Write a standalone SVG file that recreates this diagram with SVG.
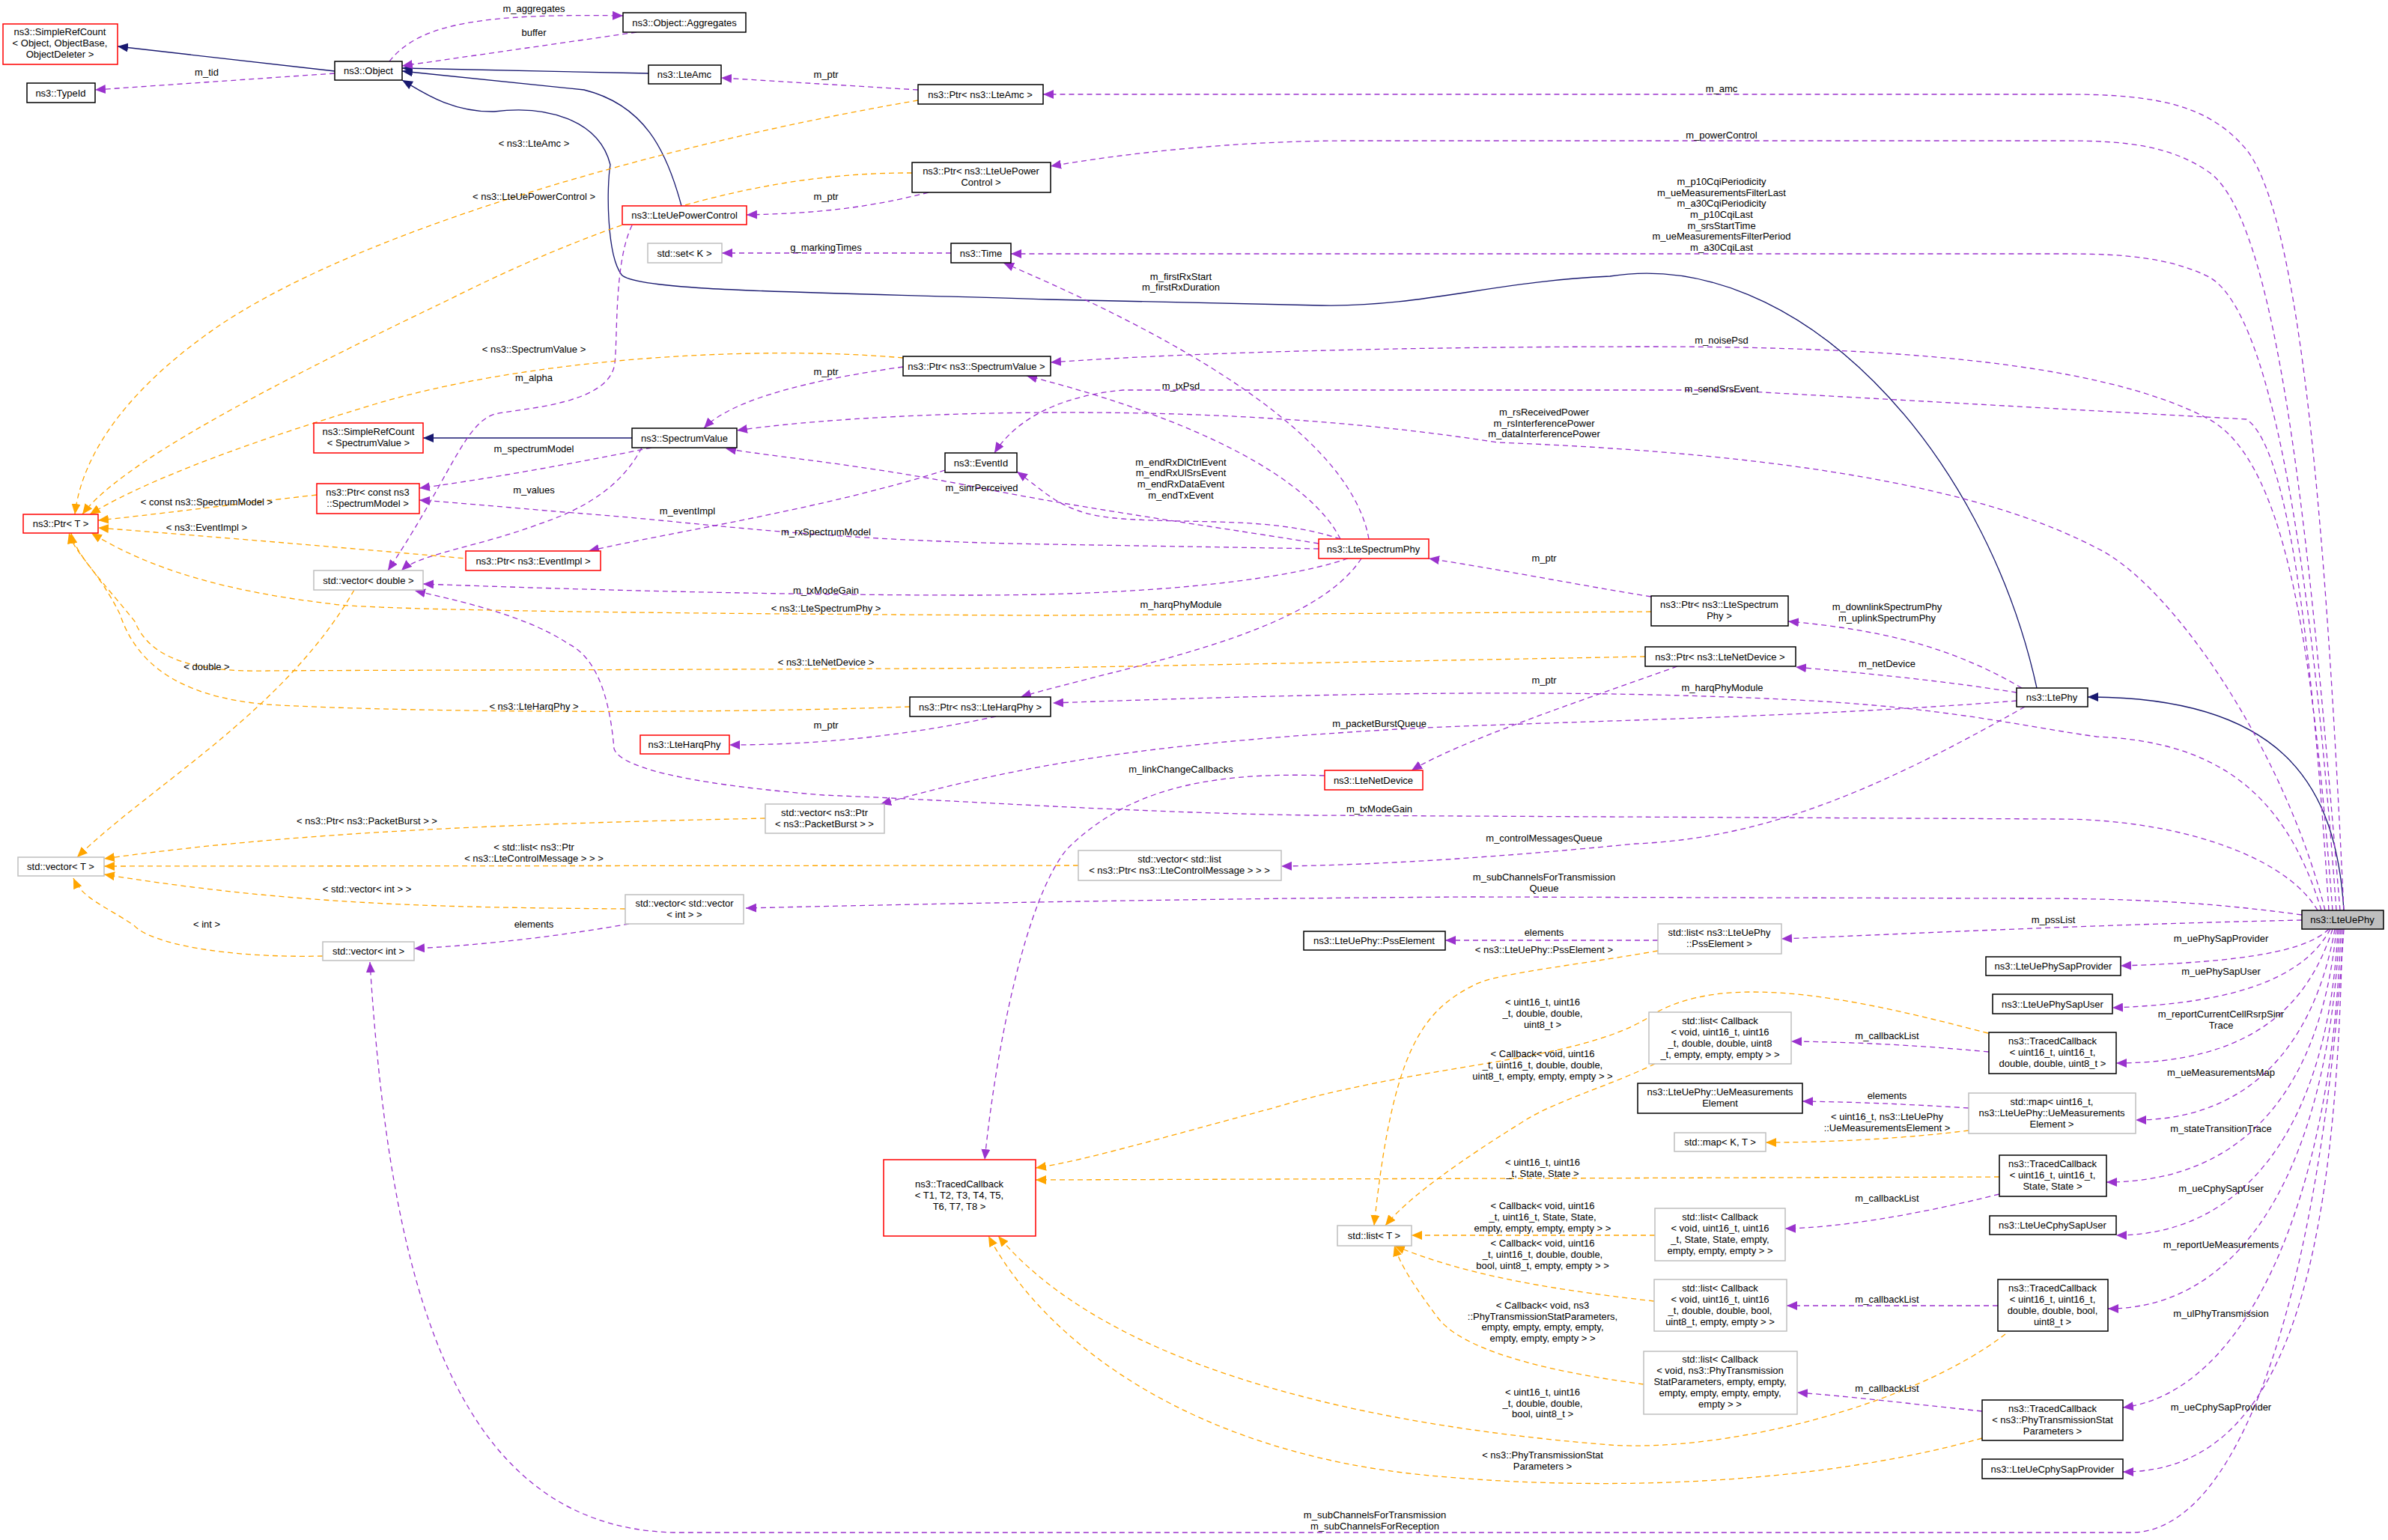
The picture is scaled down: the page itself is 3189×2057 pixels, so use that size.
<svg xmlns="http://www.w3.org/2000/svg" width="3189" height="2057" viewBox="0 0 3189 2057">
<style>
text{font-family:"Liberation Sans",Arial,sans-serif;font-size:13px;fill:#000}
.n rect{fill:#fff;stroke:#000;stroke-width:1.5}
.r rect{fill:#fff;stroke:#f00;stroke-width:1.5}
.g rect{fill:#fff;stroke:#bfbfbf;stroke-width:1.5}
.n text,.r text,.g text{text-anchor:middle}
.e path{fill:none;stroke-width:1.3}
.p{stroke:#9a32cd;stroke-dasharray:7,5;marker-end:url(#ap)}
.o{stroke:#ffa500;stroke-dasharray:7,5;marker-end:url(#ao)}
.b{stroke:#191970;marker-end:url(#ab)}
.l text{text-anchor:middle}
</style>
<defs>
<marker id="ap" markerUnits="userSpaceOnUse" markerWidth="16" markerHeight="12" refX="14" refY="6" orient="auto"><path d="M0,0 L14,6 L0,12 z" fill="#9a32cd"/></marker>
<marker id="ao" markerUnits="userSpaceOnUse" markerWidth="16" markerHeight="12" refX="14" refY="6" orient="auto"><path d="M0,0 L14,6 L0,12 z" fill="#ffa500"/></marker>
<marker id="ab" markerUnits="userSpaceOnUse" markerWidth="16" markerHeight="12" refX="14" refY="6" orient="auto"><path d="M0,0 L14,6 L0,12 z" fill="#191970"/></marker>
</defs>
<rect width="3189" height="2057" fill="#fff"/>
<g class="e" id="edges">
<path class="b" d="M447,95 L157,62"/>
<path class="b" d="M866,98 L537,91"/>
<path class="b" d="M910,275 C890,200 860,140 780,120 L537,95"/>
<path class="b" d="M2720,919 C2650,600 2400,330 2150,369 C2000,375 1900,410 1765,408 L1400,400 C1100,390 850,390 830,367 C810,340 810,250 815,220 C800,160 730,140 660,149 C600,150 560,120 537,107"/>
<path class="b" d="M844,585 L565,585"/>
<path class="b" d="M3130,1216 C3120,1050 3050,931 2788,931"/>
<path class="p" d="M520,82 C560,30 650,18 832,21"/>
<path class="p" d="M850,43 L537,88"/>
<path class="p" d="M447,98 L127,120"/>
<path class="p" d="M1226,120 L963,104"/>
<path class="p" d="M3130,1216 C3110,800 3080,300 3000,200 C2950,140 2880,126 2760,126 L1393,126"/>
<path class="p" d="M3125,1216 C3090,800 3050,300 2950,230 C2900,195 2840,188 2760,188 L1800,188 C1650,188 1500,205 1403,222"/>
<path class="p" d="M1240,257 C1150,280 1080,285 997,287"/>
<path class="p" d="M3120,1216 C3090,800 3040,420 2950,370 C2900,345 2840,339 2760,339 L1350,339"/>
<path class="p" d="M1270,338 L964,338"/>
<path class="p" d="M1828,720 C1800,560 1500,420 1340,351"/>
<path class="p" d="M3115,1216 C3090,900 3060,620 2950,560 C2800,480 2500,463 2200,463 C1900,463 1600,470 1403,484"/>
<path class="p" d="M1790,720 C1750,640 1600,560 1371,502"/>
<path class="p" d="M3110,1216 C3090,900 3060,600 3000,560 L2300,521 L1500,521 C1400,530 1350,570 1328,605"/>
<path class="p" d="M3105,1216 C3050,1000 2900,780 2800,732 C2700,680 2500,610 2000,591 C1800,560 1600,550 1400,551 C1200,552 1050,565 984,575"/>
<path class="p" d="M1206,490 C1100,505 980,530 940,572"/>
<path class="p" d="M1761,726 C1600,700 1450,680 1300,650 C1150,620 1030,610 969,599"/>
<path class="p" d="M870,598 C760,620 650,640 560,652"/>
<path class="p" d="M857,598 C830,650 780,680 720,700 C640,730 560,740 536,762"/>
<path class="p" d="M844,301 C820,350 825,450 821,485 C815,540 700,545 661,553 C620,565 600,640 518,762"/>
<path class="p" d="M1262,628 C1100,680 900,710 786,736"/>
<path class="p" d="M1761,733 L1400,727 C1100,722 950,700 804,688 C700,680 620,672 560,668"/>
<path class="p" d="M1790,720 C1700,690 1600,700 1500,693 C1420,688 1400,660 1358,630"/>
<path class="p" d="M1800,746 C1700,780 1500,795 1300,795 C1000,795 700,785 565,780"/>
<path class="p" d="M2205,797 C2100,780 2000,760 1908,746"/>
<path class="p" d="M2700,919 C2600,860 2500,840 2388,830"/>
<path class="p" d="M2693,925 C2600,910 2500,900 2398,891"/>
<path class="p" d="M2240,890 C2100,940 1950,990 1885,1029"/>
<path class="p" d="M1818,746 C1750,850 1500,890 1363,931"/>
<path class="p" d="M3100,1216 C3050,1050 2950,990 2800,984 C2700,970 2600,945 2400,935 C2100,920 1800,925 1406,939"/>
<path class="p" d="M1330,957 C1200,985 1080,995 974,995"/>
<path class="p" d="M2693,936 C2400,960 2000,965 1850,975 C1600,990 1400,1010 1176,1074"/>
<path class="p" d="M3095,1216 C3050,1140 2900,1094 2748,1094 L1750,1089 C1500,1085 1300,1070 1100,1062 C950,1050 830,1030 820,1000 C815,940 800,880 759,860 C700,820 600,800 554,789"/>
<path class="p" d="M1769,1036 C1600,1030 1500,1060 1425,1134 C1370,1200 1330,1400 1315,1549"/>
<path class="p" d="M2704,944 C2500,1060 2350,1120 2184,1127 C2000,1145 1850,1155 1711,1157"/>
<path class="p" d="M3074,1222 C2950,1205 2850,1200 2700,1200 L1967,1198 C1600,1200 1200,1208 996,1213"/>
<path class="p" d="M840,1234 C750,1250 650,1262 553,1267"/>
<path class="p" d="M3130,1241 C3100,1700 3000,2040 2850,2047 L900,2047 C600,2040 520,1700 494,1285"/>
<path class="p" d="M3074,1229 C2800,1235 2600,1245 2379,1254"/>
<path class="p" d="M2214,1256 L1930,1256"/>
<path class="p" d="M3110,1241 C3080,1270 3000,1285 2832,1290"/>
<path class="p" d="M3112,1241 C3080,1300 3000,1340 2821,1346"/>
<path class="p" d="M3115,1241 C3080,1350 3000,1420 2826,1420"/>
<path class="p" d="M2656,1405 C2550,1395 2470,1392 2392,1391"/>
<path class="p" d="M3118,1241 C3090,1400 3000,1496 2852,1496"/>
<path class="p" d="M2629,1480 C2550,1475 2480,1472 2407,1471"/>
<path class="p" d="M3120,1241 C3100,1450 3000,1579 2813,1579"/>
<path class="p" d="M2670,1595 C2550,1625 2450,1640 2384,1641"/>
<path class="p" d="M3122,1241 C3110,1500 3000,1650 2826,1650"/>
<path class="p" d="M3124,1241 C3110,1550 3000,1748 2815,1748"/>
<path class="p" d="M2668,1744 L2386,1744"/>
<path class="p" d="M3126,1241 C3115,1600 3000,1860 2835,1880"/>
<path class="p" d="M2647,1885 C2550,1875 2470,1865 2400,1860"/>
<path class="p" d="M3128,1241 C3120,1700 3050,1966 2835,1966"/>
<path class="o" d="M1226,134 C900,190 500,300 300,430 C180,510 110,600 100,687"/>
<path class="o" d="M1218,231 C1000,230 800,300 600,400 C350,520 160,620 110,687"/>
<path class="o" d="M1206,478 C1000,460 700,480 500,540 C300,600 180,650 120,687"/>
<path class="o" d="M423,661 C300,675 200,688 131,695"/>
<path class="o" d="M690,752 C500,735 300,718 131,705"/>
<path class="o" d="M2205,817 L1400,822 C900,820 500,815 446,807 C300,790 200,760 122,712"/>
<path class="o" d="M2197,877 L1400,892 C900,895 500,895 357,896 C260,898 200,880 180,830 C140,780 100,740 95,712"/>
<path class="o" d="M1215,944 C900,955 500,950 357,941 C230,930 180,880 160,820 C130,760 100,740 92,712"/>
<path class="o" d="M473,788 C380,950 200,1050 103,1145"/>
<path class="o" d="M1022,1093 C700,1100 400,1110 139,1147"/>
<path class="o" d="M1440,1156 L139,1157"/>
<path class="o" d="M835,1214 C600,1212 400,1210 139,1168"/>
<path class="o" d="M431,1277 C300,1280 200,1260 179,1236 C140,1210 110,1200 98,1173"/>
<path class="o" d="M2214,1270 C2100,1290 2000,1300 1970,1315 C1900,1350 1860,1400 1835,1637"/>
<path class="o" d="M2655,1380 C2500,1340 2300,1290 2200,1360 C2100,1420 1900,1420 1700,1480 C1550,1520 1450,1550 1383,1560"/>
<path class="o" d="M2210,1421 C2150,1450 2080,1470 2039,1495 C1950,1550 1880,1600 1850,1637"/>
<path class="o" d="M2629,1510 C2550,1520 2450,1526 2358,1526"/>
<path class="o" d="M2670,1572 L1383,1576"/>
<path class="o" d="M2210,1650 L1885,1650"/>
<path class="o" d="M2209,1738 C2050,1720 1950,1700 1862,1664"/>
<path class="o" d="M2195,1849 C2050,1830 1950,1800 1920,1760 C1890,1720 1870,1690 1862,1664"/>
<path class="o" d="M2678,1782 C2550,1880 2300,1940 2150,1930 C1900,1910 1500,1850 1333,1651"/>
<path class="o" d="M2647,1921 C2400,1990 2100,1990 1900,1970 C1600,1940 1400,1800 1320,1651"/>
</g>
<g class="l" id="labels">
<text x="713" y="16">m_aggregates</text>
<text x="713" y="48">buffer</text>
<text x="276" y="101">m_tid</text>
<text x="1103" y="104">m_ptr</text>
<text x="2299" y="123">m_amc</text>
<text x="2299" y="185">m_powerControl</text>
<text x="713" y="196">&lt; ns3::LteAmc &gt;</text>
<text x="713" y="267">&lt; ns3::LteUePowerControl &gt;</text>
<text x="1103" y="267">m_ptr</text>
<text x="2299" y="247">m_p10CqiPeriodicity</text>
<text x="2299" y="262">m_ueMeasurementsFilterLast</text>
<text x="2299" y="276">m_a30CqiPeriodicity</text>
<text x="2299" y="291">m_p10CqiLast</text>
<text x="2299" y="306">m_srsStartTime</text>
<text x="2299" y="320">m_ueMeasurementsFilterPeriod</text>
<text x="2299" y="335">m_a30CqiLast</text>
<text x="1103" y="335">g_markingTimes</text>
<text x="1577" y="374">m_firstRxStart</text>
<text x="1577" y="388">m_firstRxDuration</text>
<text x="2299" y="459">m_noisePsd</text>
<text x="713" y="471">&lt; ns3::SpectrumValue &gt;</text>
<text x="1103" y="501">m_ptr</text>
<text x="713" y="509">m_alpha</text>
<text x="1577" y="520">m_txPsd</text>
<text x="2299" y="524">m_sendSrsEvent</text>
<text x="2062" y="555">m_rsReceivedPower</text>
<text x="2062" y="570">m_rsInterferencePower</text>
<text x="2062" y="584">m_dataInterferencePower</text>
<text x="713" y="604">m_spectrumModel</text>
<text x="1577" y="622">m_endRxDlCtrlEvent</text>
<text x="1577" y="636">m_endRxUlSrsEvent</text>
<text x="1577" y="651">m_endRxDataEvent</text>
<text x="1577" y="666">m_endTxEvent</text>
<text x="1311" y="656">m_sinrPerceived</text>
<text x="713" y="659">m_values</text>
<text x="276" y="675">&lt; const ns3::SpectrumModel &gt;</text>
<text x="918" y="687">m_eventImpl</text>
<text x="276" y="709">&lt; ns3::EventImpl &gt;</text>
<text x="1103" y="715">m_rxSpectrumModel</text>
<text x="2062" y="750">m_ptr</text>
<text x="1103" y="793">m_txModeGain</text>
<text x="1577" y="812">m_harqPhyModule</text>
<text x="1103" y="817">&lt; ns3::LteSpectrumPhy &gt;</text>
<text x="2520" y="815">m_downlinkSpectrumPhy</text>
<text x="2520" y="830">m_uplinkSpectrumPhy</text>
<text x="1103" y="889">&lt; ns3::LteNetDevice &gt;</text>
<text x="2520" y="891">m_netDevice</text>
<text x="276" y="895">&lt; double &gt;</text>
<text x="2062" y="913">m_ptr</text>
<text x="2300" y="923">m_harqPhyModule</text>
<text x="713" y="948">&lt; ns3::LteHarqPhy &gt;</text>
<text x="1842" y="971">m_packetBurstQueue</text>
<text x="1103" y="973">m_ptr</text>
<text x="1577" y="1032">m_linkChangeCallbacks</text>
<text x="1842" y="1085">m_txModeGain</text>
<text x="490" y="1101">&lt; ns3::Ptr&lt; ns3::PacketBurst &gt; &gt;</text>
<text x="2062" y="1124">m_controlMessagesQueue</text>
<text x="713" y="1136">&lt; std::list&lt; ns3::Ptr</text>
<text x="713" y="1151">&lt; ns3::LteControlMessage &gt; &gt; &gt;</text>
<text x="2062" y="1176">m_subChannelsForTransmission</text>
<text x="2062" y="1191">Queue</text>
<text x="490" y="1192">&lt; std::vector&lt; int &gt; &gt;</text>
<text x="2742" y="1233">m_pssList</text>
<text x="276" y="1239">&lt; int &gt;</text>
<text x="713" y="1239">elements</text>
<text x="2062" y="1250">elements</text>
<text x="2966" y="1258">m_uePhySapProvider</text>
<text x="2062" y="1273">&lt; ns3::LteUePhy::PssElement &gt;</text>
<text x="2966" y="1302">m_uePhySapUser</text>
<text x="2060" y="1343">&lt; uint16_t, uint16</text>
<text x="2060" y="1358">_t, double, double,</text>
<text x="2060" y="1373">uint8_t &gt;</text>
<text x="2966" y="1359">m_reportCurrentCellRsrpSinr</text>
<text x="2966" y="1374">Trace</text>
<text x="2520" y="1388">m_callbackList</text>
<text x="2060" y="1412">&lt; Callback&lt; void, uint16</text>
<text x="2060" y="1427">_t, uint16_t, double, double,</text>
<text x="2060" y="1442">uint8_t, empty, empty, empty &gt; &gt;</text>
<text x="2966" y="1437">m_ueMeasurementsMap</text>
<text x="2520" y="1468">elements</text>
<text x="2520" y="1496">&lt; uint16_t, ns3::LteUePhy</text>
<text x="2520" y="1511">::UeMeasurementsElement &gt;</text>
<text x="2966" y="1512">m_stateTransitionTrace</text>
<text x="2060" y="1557">&lt; uint16_t, uint16</text>
<text x="2060" y="1572">_t, State, State &gt;</text>
<text x="2966" y="1592">m_ueCphySapUser</text>
<text x="2520" y="1605">m_callbackList</text>
<text x="2060" y="1615">&lt; Callback&lt; void, uint16</text>
<text x="2060" y="1630">_t, uint16_t, State, State,</text>
<text x="2060" y="1645">empty, empty, empty, empty &gt; &gt;</text>
<text x="2060" y="1665">&lt; Callback&lt; void, uint16</text>
<text x="2060" y="1680">_t, uint16_t, double, double,</text>
<text x="2060" y="1695">bool, uint8_t, empty, empty &gt; &gt;</text>
<text x="2966" y="1667">m_reportUeMeasurements</text>
<text x="2520" y="1740">m_callbackList</text>
<text x="2060" y="1748">&lt; Callback&lt; void, ns3</text>
<text x="2060" y="1763">::PhyTransmissionStatParameters,</text>
<text x="2060" y="1777">empty, empty, empty, empty,</text>
<text x="2060" y="1792">empty, empty, empty &gt; &gt;</text>
<text x="2966" y="1759">m_ulPhyTransmission</text>
<text x="2520" y="1859">m_callbackList</text>
<text x="2060" y="1864">&lt; uint16_t, uint16</text>
<text x="2060" y="1879">_t, double, double,</text>
<text x="2060" y="1893">bool, uint8_t &gt;</text>
<text x="2966" y="1884">m_ueCphySapProvider</text>
<text x="2060" y="1948">&lt; ns3::PhyTransmissionStat</text>
<text x="2060" y="1963">Parameters &gt;</text>
<text x="1836" y="2028">m_subChannelsForTransmission</text>
<text x="1836" y="2043">m_subChannelsForReception</text>
</g>
<g id="SimpleRefCountObject" class="r"><rect x="4" y="32" width="153" height="54"/><text x="80" y="47">ns3::SimpleRefCount</text><text x="80" y="62">&lt; Object, ObjectBase,</text><text x="80" y="77">ObjectDeleter &gt;</text></g>
<g id="TypeId" class="n"><rect x="36" y="111" width="91" height="26"/><text x="81" y="129">ns3::TypeId</text></g>
<g id="Object" class="n"><rect x="447" y="82" width="90" height="25"/><text x="492" y="99">ns3::Object</text></g>
<g id="Aggregates" class="n"><rect x="832" y="17" width="164" height="26"/><text x="914" y="35">ns3::Object::Aggregates</text></g>
<g id="LteAmc" class="n"><rect x="866" y="87" width="97" height="25"/><text x="914" y="104">ns3::LteAmc</text></g>
<g id="PtrLteAmc" class="n"><rect x="1226" y="113" width="167" height="26"/><text x="1309" y="131">ns3::Ptr&lt; ns3::LteAmc &gt;</text></g>
<g id="PtrLteUePowerControl" class="n"><rect x="1218" y="217" width="185" height="40"/><text x="1310" y="233">ns3::Ptr&lt; ns3::LteUePower</text><text x="1310" y="248">Control &gt;</text></g>
<g id="LteUePowerControl" class="r"><rect x="831" y="275" width="166" height="25"/><text x="914" y="292">ns3::LteUePowerControl</text></g>
<g id="SetK" class="g"><rect x="865" y="325" width="99" height="26"/><text x="914" y="343">std::set&lt; K &gt;</text></g>
<g id="Time" class="n"><rect x="1270" y="325" width="80" height="26"/><text x="1310" y="343">ns3::Time</text></g>
<g id="PtrSpectrumValue" class="n"><rect x="1206" y="476" width="197" height="26"/><text x="1304" y="494">ns3::Ptr&lt; ns3::SpectrumValue &gt;</text></g>
<g id="SimpleRefCountSV" class="r"><rect x="419" y="565" width="146" height="40"/><text x="492" y="581">ns3::SimpleRefCount</text><text x="492" y="596">&lt; SpectrumValue &gt;</text></g>
<g id="SpectrumValue" class="n"><rect x="844" y="572" width="140" height="26"/><text x="914" y="590">ns3::SpectrumValue</text></g>
<g id="EventId" class="n"><rect x="1262" y="605" width="96" height="26"/><text x="1310" y="623">ns3::EventId</text></g>
<g id="PtrSpectrumModel" class="r"><rect x="423" y="646" width="137" height="40"/><text x="491" y="662">ns3::Ptr&lt; const ns3</text><text x="491" y="677">::SpectrumModel &gt;</text></g>
<g id="PtrT" class="r"><rect x="31" y="687" width="100" height="25"/><text x="81" y="704">ns3::Ptr&lt; T &gt;</text></g>
<g id="PtrEventImpl" class="r"><rect x="622" y="736" width="180" height="26"/><text x="712" y="754">ns3::Ptr&lt; ns3::EventImpl &gt;</text></g>
<g id="VectorDouble" class="g"><rect x="419" y="762" width="146" height="26"/><text x="492" y="780">std::vector&lt; double &gt;</text></g>
<g id="LteSpectrumPhy" class="r"><rect x="1761" y="720" width="147" height="26"/><text x="1834" y="738">ns3::LteSpectrumPhy</text></g>
<g id="PtrLteSpectrumPhy" class="n"><rect x="2205" y="796" width="183" height="40"/><text x="2296" y="812">ns3::Ptr&lt; ns3::LteSpectrum</text><text x="2296" y="827">Phy &gt;</text></g>
<g id="PtrLteNetDevice" class="n"><rect x="2197" y="864" width="201" height="26"/><text x="2297" y="882">ns3::Ptr&lt; ns3::LteNetDevice &gt;</text></g>
<g id="LtePhy" class="n"><rect x="2693" y="919" width="95" height="25"/><text x="2740" y="936">ns3::LtePhy</text></g>
<g id="PtrLteHarqPhy" class="n"><rect x="1215" y="931" width="188" height="26"/><text x="1309" y="949">ns3::Ptr&lt; ns3::LteHarqPhy &gt;</text></g>
<g id="LteHarqPhy" class="r"><rect x="855" y="982" width="119" height="25"/><text x="914" y="999">ns3::LteHarqPhy</text></g>
<g id="LteNetDevice" class="r"><rect x="1769" y="1029" width="131" height="26"/><text x="1834" y="1047">ns3::LteNetDevice</text></g>
<g id="VectorPacketBurst" class="g"><rect x="1022" y="1074" width="159" height="39"/><text x="1101" y="1090">std::vector&lt; ns3::Ptr</text><text x="1101" y="1105">&lt; ns3::PacketBurst &gt; &gt;</text></g>
<g id="VectorList" class="g"><rect x="1440" y="1136" width="271" height="40"/><text x="1575" y="1152">std::vector&lt; std::list</text><text x="1575" y="1167">&lt; ns3::Ptr&lt; ns3::LteControlMessage &gt; &gt; &gt;</text></g>
<g id="VectorT" class="g"><rect x="24" y="1145" width="115" height="25"/><text x="81" y="1162">std::vector&lt; T &gt;</text></g>
<g id="VectorVectorInt" class="g"><rect x="835" y="1195" width="158" height="39"/><text x="914" y="1211">std::vector&lt; std::vector</text><text x="914" y="1226">&lt; int &gt; &gt;</text></g>
<g id="VectorInt" class="g"><rect x="431" y="1258" width="122" height="25"/><text x="492" y="1275">std::vector&lt; int &gt;</text></g>
<g id="PssElement" class="n"><rect x="1741" y="1244" width="189" height="25"/><text x="1835" y="1261">ns3::LteUePhy::PssElement</text></g>
<g id="ListPss" class="g"><rect x="2214" y="1234" width="165" height="40"/><text x="2296" y="1250">std::list&lt; ns3::LteUePhy</text><text x="2296" y="1265">::PssElement &gt;</text></g>
<g id="LteUePhy"><rect x="3074" y="1216" width="109" height="25" fill="#bfbfbf" stroke="#000" stroke-width="1.5"/><text x="3128" y="1233" text-anchor="middle">ns3::LteUePhy</text></g>
<g id="LteUePhySapProvider" class="n"><rect x="2652" y="1278" width="180" height="25"/><text x="2742" y="1295">ns3::LteUePhySapProvider</text></g>
<g id="LteUePhySapUser" class="n"><rect x="2661" y="1328" width="160" height="26"/><text x="2741" y="1346">ns3::LteUePhySapUser</text></g>
<g id="TC1" class="n"><rect x="2656" y="1379" width="170" height="55"/><text x="2741" y="1395">ns3::TracedCallback</text><text x="2741" y="1410">&lt; uint16_t, uint16_t,</text><text x="2741" y="1425">double, double, uint8_t &gt;</text></g>
<g id="LC1" class="g"><rect x="2202" y="1352" width="190" height="69"/><text x="2297" y="1368">std::list&lt; Callback</text><text x="2297" y="1383">&lt; void, uint16_t, uint16</text><text x="2297" y="1398">_t, double, double, uint8</text><text x="2297" y="1413">_t, empty, empty, empty &gt; &gt;</text></g>
<g id="UeMeasElement" class="n"><rect x="2187" y="1447" width="220" height="40"/><text x="2297" y="1463">ns3::LteUePhy::UeMeasurements</text><text x="2297" y="1478">Element</text></g>
<g id="MapUeMeas" class="g"><rect x="2629" y="1460" width="223" height="54"/><text x="2740" y="1476">std::map&lt; uint16_t,</text><text x="2740" y="1491">ns3::LteUePhy::UeMeasurements</text><text x="2740" y="1506">Element &gt;</text></g>
<g id="MapKT" class="g"><rect x="2236" y="1513" width="122" height="25"/><text x="2297" y="1530">std::map&lt; K, T &gt;</text></g>
<g id="TracedCallbackT" class="r"><rect x="1180" y="1549" width="203" height="102"/><text x="1281" y="1586">ns3::TracedCallback</text><text x="1281" y="1601">&lt; T1, T2, T3, T4, T5,</text><text x="1281" y="1616">T6, T7, T8 &gt;</text></g>
<g id="TC2" class="n"><rect x="2670" y="1543" width="143" height="55"/><text x="2741" y="1559">ns3::TracedCallback</text><text x="2741" y="1574">&lt; uint16_t, uint16_t,</text><text x="2741" y="1589">State, State &gt;</text></g>
<g id="ListT" class="g"><rect x="1786" y="1637" width="99" height="27"/><text x="1835" y="1655">std::list&lt; T &gt;</text></g>
<g id="LC2" class="g"><rect x="2210" y="1614" width="174" height="70"/><text x="2297" y="1630">std::list&lt; Callback</text><text x="2297" y="1645">&lt; void, uint16_t, uint16</text><text x="2297" y="1660">_t, State, State, empty,</text><text x="2297" y="1675">empty, empty, empty &gt; &gt;</text></g>
<g id="LteUeCphySapUser" class="n"><rect x="2657" y="1624" width="169" height="25"/><text x="2741" y="1641">ns3::LteUeCphySapUser</text></g>
<g id="LC3" class="g"><rect x="2209" y="1709" width="177" height="69"/><text x="2297" y="1725">std::list&lt; Callback</text><text x="2297" y="1740">&lt; void, uint16_t, uint16</text><text x="2297" y="1755">_t, double, double, bool,</text><text x="2297" y="1770">uint8_t, empty, empty &gt; &gt;</text></g>
<g id="TC3" class="n"><rect x="2668" y="1709" width="147" height="69"/><text x="2741" y="1725">ns3::TracedCallback</text><text x="2741" y="1740">&lt; uint16_t, uint16_t,</text><text x="2741" y="1755">double, double, bool,</text><text x="2741" y="1770">uint8_t &gt;</text></g>
<g id="LC4" class="g"><rect x="2195" y="1805" width="205" height="84"/><text x="2297" y="1820">std::list&lt; Callback</text><text x="2297" y="1835">&lt; void, ns3::PhyTransmission</text><text x="2297" y="1850">StatParameters, empty, empty,</text><text x="2297" y="1865">empty, empty, empty, empty,</text><text x="2297" y="1880">empty &gt; &gt;</text></g>
<g id="TC4" class="n"><rect x="2647" y="1870" width="188" height="54"/><text x="2741" y="1886">ns3::TracedCallback</text><text x="2741" y="1901">&lt; ns3::PhyTransmissionStat</text><text x="2741" y="1916">Parameters &gt;</text></g>
<g id="LteUeCphySapProvider" class="n"><rect x="2647" y="1949" width="188" height="26"/><text x="2741" y="1967">ns3::LteUeCphySapProvider</text></g>
</svg>
